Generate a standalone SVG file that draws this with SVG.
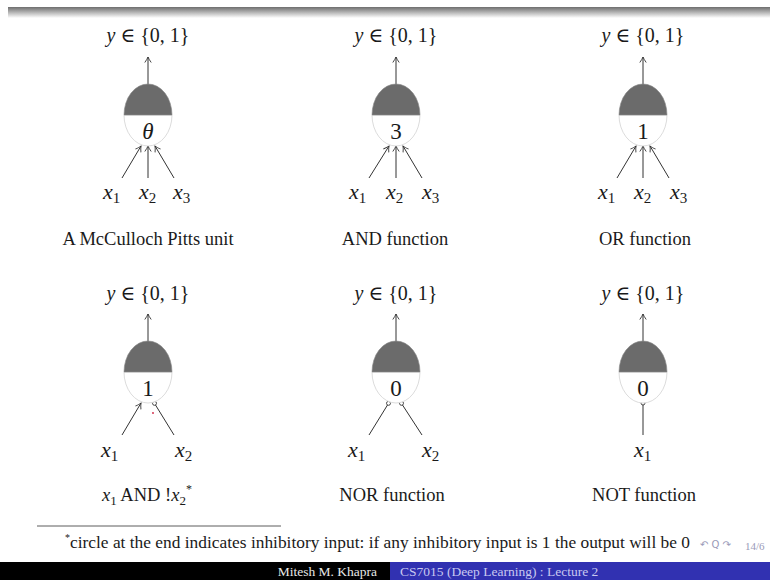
<svg xmlns="http://www.w3.org/2000/svg" width="770" height="580" viewBox="0 0 770 580">
<style>
.t{font-family:"Liberation Serif","DejaVu Serif",serif;fill:#1a1a1a}
.cap{font-size:18.5px;text-anchor:middle}
.out{font-size:20px;text-anchor:middle}
.var{font-size:22px;font-style:italic}
.th{font-size:23px;text-anchor:middle}
.edge{stroke:#333;stroke-width:1;fill:none}
.inh{stroke:#333;stroke-width:0.9;fill:#fff}
</style>
<defs>
<linearGradient id="band" x1="0" y1="0" x2="0" y2="1">
<stop offset="0" stop-color="#6e6e6e"/>
<stop offset="1" stop-color="#ffffff"/>
</linearGradient>
<marker id="ah" viewBox="-8 -5 10 10" refX="0" refY="0" markerWidth="10" markerHeight="10" markerUnits="userSpaceOnUse" orient="auto">
<path d="M -5.5 -3.2 Q -2 -0.8 0 0 Q -2 0.8 -5.5 3.2" stroke="#333" stroke-width="0.9" fill="none"/>
</marker>
<g id="neuron">
<path d="M -24 0 A 24 31 0 0 0 24 0 Z" fill="#fff" stroke="#dcdcdc" stroke-width="1"/>
<path d="M -24 0 A 24 31 0 0 1 24 0 Z" fill="#6b6b6b" stroke="#8a8a8a" stroke-width="0.6"/>
</g>
</defs>
<rect x="0" y="0" width="770" height="580" fill="#fff"/>
<rect x="8" y="7" width="762" height="11" fill="url(#band)"/>

<g id="connectors">
<line class="edge" x1="148" y1="84" x2="148" y2="57" marker-end="url(#ah)"/>
<line class="edge" x1="396" y1="84" x2="396" y2="57" marker-end="url(#ah)"/>
<line class="edge" x1="643" y1="84" x2="643" y2="57" marker-end="url(#ah)"/>
<line class="edge" x1="148" y1="341" x2="148" y2="314" marker-end="url(#ah)"/>
<line class="edge" x1="396" y1="341" x2="396" y2="314" marker-end="url(#ah)"/>
<line class="edge" x1="643" y1="341" x2="643" y2="314" marker-end="url(#ah)"/>
<line class="edge" x1="122" y1="178" x2="141" y2="146" marker-end="url(#ah)"/>
<line class="edge" x1="148" y1="178" x2="148" y2="146" marker-end="url(#ah)"/>
<line class="edge" x1="174" y1="178" x2="155" y2="146" marker-end="url(#ah)"/>
<line class="edge" x1="369" y1="178" x2="389" y2="146" marker-end="url(#ah)"/>
<line class="edge" x1="396" y1="178" x2="396" y2="146" marker-end="url(#ah)"/>
<line class="edge" x1="422" y1="178" x2="403" y2="146" marker-end="url(#ah)"/>
<line class="edge" x1="617" y1="178" x2="636" y2="146" marker-end="url(#ah)"/>
<line class="edge" x1="643" y1="178" x2="643" y2="146" marker-end="url(#ah)"/>
<line class="edge" x1="669" y1="178" x2="650" y2="146" marker-end="url(#ah)"/>
<line class="edge" x1="122" y1="435" x2="141" y2="403" marker-end="url(#ah)"/>
<line class="edge" x1="174" y1="435" x2="155.5" y2="405"/>
<circle class="inh" cx="154.5" cy="403.3" r="2"/>
<line class="edge" x1="369" y1="435" x2="387.5" y2="405"/>
<circle class="inh" cx="388.5" cy="403.3" r="2"/>
<line class="edge" x1="422" y1="435" x2="402.5" y2="405"/>
<circle class="inh" cx="401.5" cy="403.3" r="2"/>
<line class="edge" x1="643" y1="435" x2="643" y2="405"/>
<circle class="inh" cx="643" cy="403" r="2"/>
</g>

<g id="node-mcculloch">
<use href="#neuron" x="148" y="115"/>
<text class="t th" x="148" y="139" font-style="italic">θ</text>
<text class="t out" x="148" y="42"><tspan font-style="italic">y</tspan> ∈ {0, 1}</text>
<text class="t var" x="103" y="199">x<tspan font-size="15" font-style="normal" dy="4">1</tspan></text>
<text class="t var" x="139" y="199">x<tspan font-size="15" font-style="normal" dy="4">2</tspan></text>
<text class="t var" x="173" y="199">x<tspan font-size="15" font-style="normal" dy="4">3</tspan></text>
<text class="t cap" x="148" y="245">A McCulloch Pitts unit</text>
</g>

<g id="node-and">
<use href="#neuron" x="396" y="115"/>
<text class="t th" x="396" y="139">3</text>
<text class="t out" x="396" y="42"><tspan font-style="italic">y</tspan> ∈ {0, 1}</text>
<text class="t var" x="349" y="199">x<tspan font-size="15" font-style="normal" dy="4">1</tspan></text>
<text class="t var" x="386" y="199">x<tspan font-size="15" font-style="normal" dy="4">2</tspan></text>
<text class="t var" x="422" y="199">x<tspan font-size="15" font-style="normal" dy="4">3</tspan></text>
<text class="t cap" x="395" y="245">AND function</text>
</g>

<g id="node-or">
<use href="#neuron" x="643" y="115"/>
<text class="t th" x="643" y="139">1</text>
<text class="t out" x="643" y="42"><tspan font-style="italic">y</tspan> ∈ {0, 1}</text>
<text class="t var" x="598" y="199">x<tspan font-size="15" font-style="normal" dy="4">1</tspan></text>
<text class="t var" x="634" y="199">x<tspan font-size="15" font-style="normal" dy="4">2</tspan></text>
<text class="t var" x="670" y="199">x<tspan font-size="15" font-style="normal" dy="4">3</tspan></text>
<text class="t cap" x="645" y="245">OR function</text>
</g>

<g id="node-andnot">
<use href="#neuron" x="148" y="372"/>
<text class="t th" x="148" y="396">1</text>
<text class="t out" x="148" y="300"><tspan font-style="italic">y</tspan> ∈ {0, 1}</text>
<text class="t var" x="101" y="457">x<tspan font-size="15" font-style="normal" dy="4">1</tspan></text>
<text class="t var" x="175" y="457">x<tspan font-size="15" font-style="normal" dy="4">2</tspan></text>
<text class="t cap" x="147" y="501"><tspan font-style="italic">x</tspan><tspan font-size="13" dy="4">1</tspan><tspan dy="-4"> AND !</tspan><tspan font-style="italic">x</tspan><tspan font-size="13" dy="4">2</tspan><tspan font-size="12" dy="-12">*</tspan></text>
<circle cx="153" cy="413" r="0.9" fill="#d02040"/>
</g>

<g id="node-nor">
<use href="#neuron" x="396" y="372"/>
<text class="t th" x="396" y="396">0</text>
<text class="t out" x="396" y="300"><tspan font-style="italic">y</tspan> ∈ {0, 1}</text>
<text class="t var" x="348" y="457">x<tspan font-size="15" font-style="normal" dy="4">1</tspan></text>
<text class="t var" x="422" y="457">x<tspan font-size="15" font-style="normal" dy="4">2</tspan></text>
<text class="t cap" x="392" y="501">NOR function</text>
</g>

<g id="node-not">
<use href="#neuron" x="643" y="372"/>
<text class="t th" x="643" y="396">0</text>
<text class="t out" x="643" y="300"><tspan font-style="italic">y</tspan> ∈ {0, 1}</text>
<text class="t var" x="634" y="457">x<tspan font-size="15" font-style="normal" dy="4">1</tspan></text>
<text class="t cap" x="644" y="501">NOT function</text>
</g>

<g id="footnote">
<line x1="37" y1="526" x2="281" y2="526" stroke="#333" stroke-width="0.8"/>
<text class="t" x="65" y="541" font-size="10">*</text>
<text class="t" x="70" y="548" font-size="17" textLength="620" lengthAdjust="spacingAndGlyphs">circle at the end indicates inhibitory input: if any inhibitory input is 1 the output will be 0</text>
<text x="700" y="548" font-family="DejaVu Sans, sans-serif" font-size="10" fill="#9a9ab8">↶ Q ↷</text>
<text x="745" y="550" font-family="Liberation Serif, serif" font-size="11" fill="#9a9ab8">14/6</text>
</g>

<g id="footer">
<rect x="0" y="562" width="390" height="18" fill="#000"/>
<rect x="390" y="562" width="380" height="18" fill="#3131b1"/>
<text x="377" y="576" font-family="Liberation Serif, serif" font-size="13.5" fill="#e8e8e8" text-anchor="end">Mitesh M. Khapra</text>
<text x="400" y="576" font-family="Liberation Serif, serif" font-size="13.5" fill="#c8c8f0">CS7015 (Deep Learning) : Lecture 2</text>
</g>
</svg>
